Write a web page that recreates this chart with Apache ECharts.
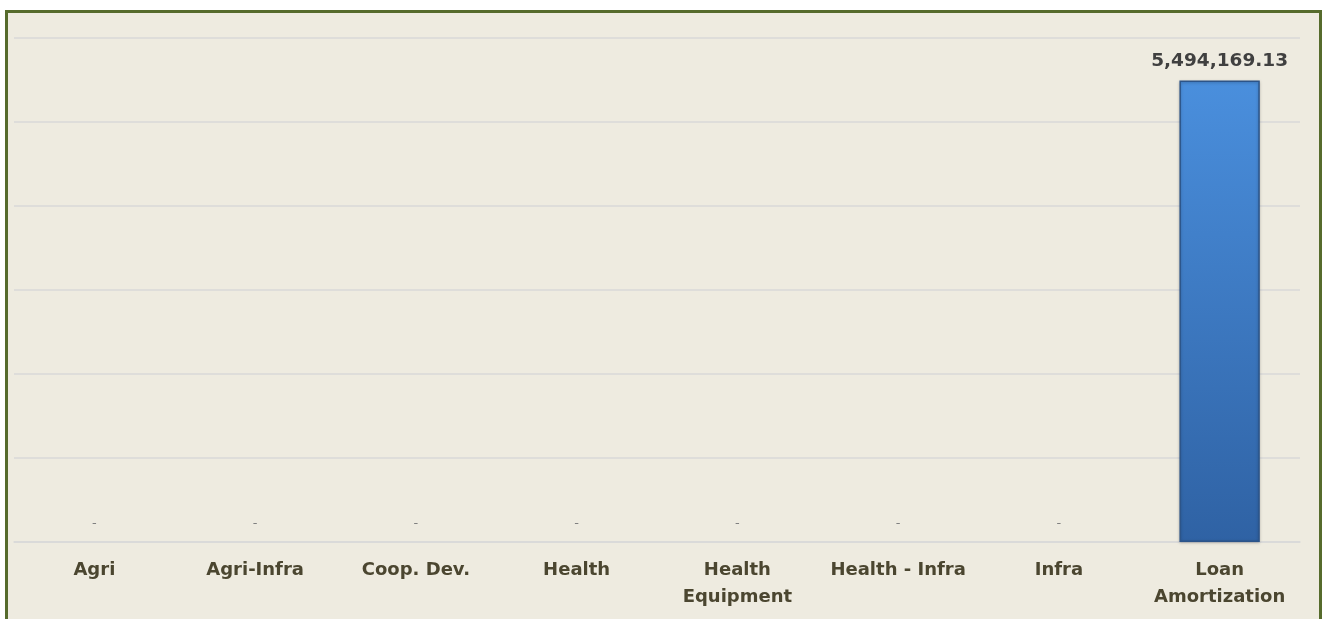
<!DOCTYPE html>
<html>
<head>
<meta charset="utf-8">
<script src="https://cdn.jsdelivr.net/npm/echarts@6/dist/echarts.min.js"></script>
<style>
  html, body { margin: 0; padding: 0; background: #ffffff; }
  .frame {
    position: absolute;
    left: 5px;
    top: 10px;
    width: 1311px;
    height: 640px;
    background: #eeebe0;
    border: 3.5px solid #566b2c;
    border-bottom: none;
  }
  #chart {
    position: absolute;
    left: 0;
    top: 0;
    width: 1324px;
    height: 619px;
  }
</style>
</head>
<body>
<div class="frame"></div>
<div id="chart"></div>
<script>
const categories = ['Agri', 'Agri-Infra', 'Coop. Dev.', 'Health', 'Health\nEquipment', 'Health - Infra', 'Infra', 'Loan\nAmortization']
const values = [0, 0, 0, 0, 0, 0, 0, 5494169.13]

const chart = echarts.init(document.getElementById('chart'))

function fmt(v) {
  return v.toLocaleString('en-US', { minimumFractionDigits: 2, maximumFractionDigits: 2 })
}

// zero values show a grey dash, like the spreadsheet accounting format
const barData = values.map(v => ({
  value: v,
  itemStyle: v === 0 ? { borderWidth: 0, color: 'transparent', shadowBlur: 0 } : {},
  label: v === 0
    ? { distance: 12, color: '#808080', fontWeight: 'normal', fontSize: 13 }
    : { distance: 10, color: '#404040', fontWeight: 'bold', fontSize: 18.5 }
}))

const option = {
  animation: false,
  backgroundColor: 'transparent',
  grid: { left: 14, right: 24, top: 38, bottom: 77, containLabel: false },
  xAxis: {
    type: 'category',
    data: categories,
    axisLine: { show: true, lineStyle: { color: '#d9d9d9', width: 1.5 } },
    axisTick: { show: false },
    axisLabel: {
      color: '#4b4630',
      fontFamily: 'DejaVu Sans',
      fontWeight: 'bold',
      fontSize: 18,
      lineHeight: 27,
      margin: 15,
      interval: 0
    }
  },
  yAxis: {
    type: 'value',
    min: 0,
    max: 6000000,
    interval: 1000000,
    axisLabel: { show: false },
    axisLine: { show: false },
    axisTick: { show: false },
    splitLine: { lineStyle: { color: '#d9d9d9', width: 1.5 } }
  },
  series: [
    {
      type: 'bar',
      data: barData,
      barWidth: '50%',
      itemStyle: {
        color: new echarts.graphic.LinearGradient(0, 0, 0, 1, [
          { offset: 0, color: '#4a8fdd' },
          { offset: 1, color: '#2f62a4' }
        ]),
        borderColor: '#2c5489',
        borderWidth: 1.5,
        shadowColor: 'rgba(0,0,0,0.25)',
        shadowBlur: 3,
        shadowOffsetY: 1
      },
      label: {
        show: true,
        position: 'top',
        fontFamily: 'DejaVu Sans',
        formatter: p => (p.value === 0 ? '-' : fmt(p.value))
      }
    }
  ]
}

chart.setOption(option)
</script>
</body>
</html>
